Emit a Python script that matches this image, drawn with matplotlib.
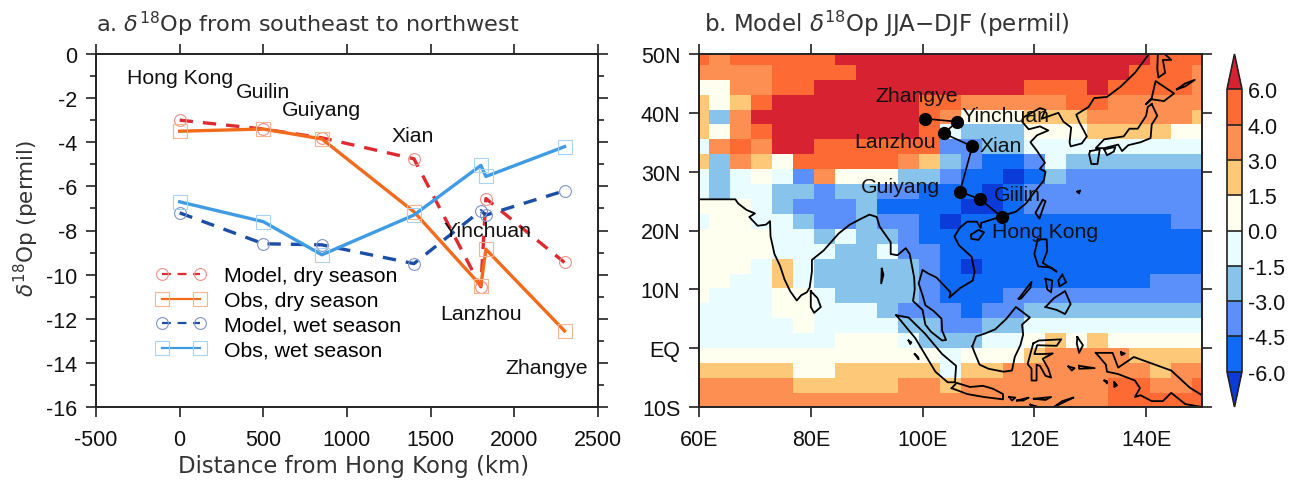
import matplotlib
matplotlib.use('Agg')
import matplotlib.pyplot as plt
from matplotlib.colors import ListedColormap, BoundaryNorm
from matplotlib.lines import Line2D
from matplotlib.ticker import MultipleLocator
import numpy as np

W, H = 1289, 481

# panel a data
distance = [0, 500, 850, 1400, 1800, 1830, 2300]
model_dry = [-3.0, -3.4, -3.8, -4.75, -10.55, -6.55, -9.45]
obs_dry = [-3.5, -3.4, -3.85, -7.15, -10.5, -8.85, -12.55]
model_wet = [-7.2, -8.6, -8.65, -9.5, -7.1, -7.3, -6.2]
obs_wet = [-6.7, -7.6, -9.1, -7.3, -5.05, -5.55, -4.2]

label_names = ['Hong Kong', 'Guilin', 'Guiyang', 'Xian', 'Yinchuan', 'Lanzhou', 'Zhangye']
label_x = [2, 498, 845, 1395, 1837, 1801, 2196]
label_y = [-1.05, -1.68, -2.5, -3.7, -8.0, -11.75, -14.2]

# panel b data: colour class of each model cell, north to south, west to east
# 0 is below -6 and 9 is above 6
grid_classes = [
    '8788888999999999999999888',
    '7777888899999999999998887',
    '5577889999999999888988887',
    '6568999999988777778877777',
    '6379999999987555666777776',
    '6578999999984333555666655',
    '4787998888882233444444444',
    '6376588888763211243333333',
    '4345427555332110132222222',
    '4344332332211101222222222',
    '5554322231111001222222222',
    '4554432232210111111111122',
    '5555443433211111111111111',
    '5555444334221111111111111',
    '5554643333321011111111111',
    '5544643333321111111111222',
    '5444554333321112222222222',
    '4444554443222122333333333',
    '4444454444332233444444444',
    '4444444555433344565655555',
    '5555555555554555677776666',
    '6666655666664667777777677',
    '7777766666776777777788778',
    '7777777777777777777788888',
]
class_values = [-7, -5.25, -3.75, -2.25, -0.75, 0.75, 2.25, 3.5, 5, 7]
class_colors = ['#0b3bd9', '#0f6af5', '#5b8ff9', '#87c3ea', '#e9fcff',
                '#fffff0', '#fdc978', '#fd8f52', '#fd6a33', '#d62231']
bounds = [-6, -4.5, -3, -1.5, 0, 1.5, 3, 4, 6]

station_names = ['Hong Kong', 'Guilin', 'Guiyang', 'Xian', 'Lanzhou', 'Yinchuan', 'Zhangye']
station_lon = [114.2, 110.3, 106.7, 108.9, 103.8, 106.2, 100.4]
station_lat = [22.3, 25.3, 26.6, 34.3, 36.5, 38.5, 39.0]

map_labels = ['Hong Kong', 'Giilin', 'Guiyang', 'Xian', 'Lanzhou', 'Yinchuan', 'Zhangye']
map_label_lon = [121.9, 116.9, 96.0, 113.9, 95.0, 114.9, 98.9]
map_label_lat = [19.9, 26.2, 27.4, 34.4, 35.2, 39.5, 43.0]

# coastlines, lon/lat
coast_asia = [(60, 25.3), (66.5, 25.3), (67, 24.6), (68.5, 23.5), (70, 22.9), (69, 22.3), (70.5, 20.8),
              (72, 21), (72.7, 21.6), (72.8, 19), (73.5, 16), (74.5, 14), (75.3, 11.7), (76.3, 9.7),
              (77.5, 8.1), (78.3, 9), (79.3, 9.5), (79.8, 10.3), (80.2, 13), (80.2, 15), (82.3, 16.6),
              (85, 19.5), (87, 21), (89, 22), (90.5, 22.7), (91.8, 22.3), (92.3, 20.7), (94.3, 18),
              (94.3, 16), (95.5, 15.8), (97, 17), (97.7, 16), (98.5, 12), (98.6, 10), (98.3, 8),
              (100, 6.5), (100.5, 4), (101.5, 2.8), (103.5, 1.3), (104.2, 1.4), (103.5, 3), (103.4, 5),
              (102, 6.3), (100.5, 7.3), (100, 9), (99.3, 11), (100, 13.3), (101, 12.7), (102.5, 12),
              (104, 10.5), (105, 9.5), (104.8, 8.6), (106.7, 10.2), (109, 11.5), (109.3, 13), (108.8, 15.5),
              (106.5, 17.5), (105.7, 19), (106.7, 20.5), (108, 21.5), (109.7, 21.5), (110.4, 20.4),
              (110.5, 21.3), (113.5, 22.2), (114.3, 22.5), (116.7, 23.2), (118.5, 24.6), (120, 26.5),
              (121.7, 28.5), (122, 30), (121, 30.5), (121.9, 31.5), (120.5, 33.5), (119.3, 35),
              (120.5, 36.2), (122.5, 37), (121, 37.7), (119, 37.2), (117.8, 38.5), (118, 39.2), (121, 40.8),
              (122, 40.5), (121.3, 39), (124.3, 40), (125.2, 38.5), (126.6, 37.5), (126.3, 35), (126.5, 34.3),
              (128.5, 34.8), (129.4, 36), (128, 38.5), (127.5, 39.7), (129.7, 41), (130.7, 42.5), (133, 42.7),
              (135.5, 44.5), (138, 46.8), (140.5, 50)]
islands = [
    [(80, 9.7), (81.2, 8.5), (81.8, 7), (80.6, 6), (80, 7), (80, 9.7)],
    [(108.7, 19.3), (110, 20.1), (111, 19.7), (110, 18.4), (108.7, 18.6), (108.7, 19.3)],
    [(121.5, 25.2), (122, 25), (120.9, 22), (120.2, 23), (121.5, 25.2)],
    [(95.3, 5.6), (97.5, 5.2), (100.4, 2.5), (103.5, -1), (106, -3), (105.8, -5.8), (104.5, -5.8),
     (102.3, -4), (100.4, -1), (98.7, 1.7), (95.3, 5.6)],
    [(105.2, -6.8), (106.1, -5.9), (108.5, -6.6), (110.8, -6.4), (112.6, -6.9), (114.4, -7.8),
     (114.4, -8.7), (111, -8.3), (108, -7.8), (105.2, -6.8)],
    [(108.9, 0.3), (109.6, 2), (111.2, 2.5), (113, 3.2), (115, 5), (116.7, 7), (119.2, 5.2), (117.8, 4),
     (118, 2.3), (117.5, 0.5), (116.5, -1.5), (116, -3.8), (114.5, -4), (111.8, -3.5), (110.2, -2.8),
     (109.2, -0.5), (108.9, 0.3)],
    [(119.8, 0.8), (120.8, 1.3), (124.8, 1.5), (124, 0.4), (120.5, 0.5), (120, -1), (121.5, -1),
     (123.3, -0.9), (121.5, -1.8), (122.5, -3.5), (123, -5), (122, -4.7), (121, -3), (120.4, -2.8),
     (120.4, -5.5), (119.5, -5.5), (119.5, -3.5), (118.8, -2.7), (119.8, 0.8)],
    [(131, -0.8), (134, -0.8), (135, -3.3), (137.8, -1.5), (141, -2.6), (144.5, -3.8), (147, -6),
     (147.8, -6.7), (150, -8), (150, -10), (147, -9.5), (144.5, -7.6), (143, -9), (141, -9), (139, -8),
     (138, -8.3), (138.9, -6.8), (138, -5.5), (135, -4.4), (133, -4), (132.8, -2.8), (131, -0.8)],
    [(120.6, 18.5), (122.2, 18.5), (122.3, 16.5), (121.5, 14.5), (124, 13), (123, 13.7), (120.7, 13.9),
     (120, 16), (120.6, 18.5)],
    [(122, 7), (123.5, 8.5), (125.5, 9.7), (126.5, 7.5), (125.5, 5.8), (124, 6.5), (122, 7)],
    [(125, 12.5), (125.7, 11.2), (124.5, 10.5), (124.3, 11.5), (125, 12.5)],
    [(122, 11.8), (123.2, 11.5), (123, 9.5), (122.3, 10), (122, 11.8)],
    [(117.2, 8.4), (119.5, 11.3), (119.3, 10.3), (117.6, 8.4), (117.2, 8.4)],
    [(127.7, 1.9), (128.7, 0.5), (128, -0.8), (127.6, 0.8), (127.7, 1.9)],
    [(128, -3), (130.8, -3.4), (128, -3.5), (128, -3)],
    [(126.1, -3.1), (127.2, -3.4), (126.7, -3.8), (126.1, -3.1)],
    [(132.5, -5.5), (133, -5.6), (133, -6), (132.6, -5.5)],
    [(134.3, -5.8), (134.8, -6.3), (134.3, -6.6), (134.3, -5.8)],
    [(135.5, -0.7), (136.2, -0.9), (135.6, -1.2), (135.5, -0.7)],
    [(123.5, -10), (127, -8.4), (125, -9), (123.5, -10)],
    [(119.9, -8.6), (123, -8.3), (122, -8.8), (119.9, -8.6)],
    [(116.9, -8.9), (119, -8.4), (118, -8.9), (116.9, -8.9)],
    [(115.5, -8.3), (116.6, -8.4), (116, -8.9), (115.5, -8.3)],
    [(119.3, -9.6), (120.7, -10), (119.7, -9.9), (119.3, -9.6)],
    [(92.7, 13.5), (93, 12.5), (92.6, 11), (92.7, 13.5)],
    [(97.5, 1.3), (98, 1), (97.8, 0.7), (97.5, 1.3)],
    [(98.6, -1), (99.2, -1.5), (99.3, -1.9), (98.6, -1)],
    [(127.7, 26.6), (128.2, 26.8), (128, 26.3), (127.7, 26.6)],
    [(142.1, 50), (142, 47.5), (142.2, 46), (143.4, 46.8), (143, 49), (144.5, 49), (143.3, 50)],
    [(140, 41.5), (141, 42.5), (141.7, 45.4), (145, 43.3), (143.2, 42), (141, 42.3), (140, 41.5)],
    [(141, 41.5), (142, 39.5), (141, 38), (140.8, 35.7), (139, 35), (136.8, 34.5), (135.7, 33.5),
     (135, 34.6), (132.5, 34), (131, 34), (132.5, 35.5), (136, 36), (137, 37.3), (138.5, 37.3),
     (140, 39.5), (140.3, 41), (141, 41.5)],
    [(132.5, 33.8), (134.5, 34.2), (134.2, 33.4), (133, 32.8), (132.5, 33.8)],
    [(130, 33.5), (131.7, 33.8), (131.3, 31.3), (130.2, 31.3), (129.8, 33), (130, 33.5)],
    [(145.5, 44), (147, 45), (148.7, 45.6), (147, 44.5), (145.5, 44)],
]

plt.rcParams['font.family'] = ['Liberation Sans', 'DejaVu Sans']
plt.rcParams['mathtext.fontset'] = 'dejavusans'
plt.rcParams['axes.unicode_minus'] = False

fig = plt.figure(figsize=(W / 100, H / 100), dpi=100)


def pixel_axes(left, top, right, bottom):
    return fig.add_axes([left / W, 1 - bottom / H, (right - left) / W, (bottom - top) / H])


dark = '#222222'
label_size = 15.3
tick_size = 15.5

# panel a
ax = pixel_axes(96, 55, 598, 408)
red, orange, navy, sky = '#e02a30', '#f26a1c', '#1c4ea6', '#3f9be3'
red_m, orange_m, navy_m, sky_m = '#ee8f88', '#f8b48e', '#7f93c8', '#a8d2f2'
circle = dict(marker='o', ms=8.5, mfc='none', mew=0.8)
square = dict(marker='s', ms=10, mfc='none', mew=0.8)

ax.plot(distance, model_dry, color=red, lw=2.4, dashes=(4, 3), mec=red_m, **circle)
ax.plot(distance, model_wet, color=navy, lw=2.4, dashes=(4, 3), mec=navy_m, **circle)
ax.plot(distance, obs_dry, color=orange, lw=2.4, mec=orange_m, **square)
ax.plot(distance, obs_wet, color=sky, lw=2.4, mec=sky_m, **square)

for name, x, y in zip(label_names, label_x, label_y):
    ax.text(x, y, name, fontsize=label_size, ha='center', va='center', color='#111111')

ax.set_xlim(-500, 2500)
ax.set_ylim(-16, 0)
ax.xaxis.set_major_locator(MultipleLocator(500))
ax.yaxis.set_major_locator(MultipleLocator(2))
ax.yaxis.set_minor_locator(MultipleLocator(1))
ax.tick_params(which='major', direction='out', length=7.5, width=1.2, color=dark, top=True, right=True,
               labelsize=tick_size, pad=6, labelcolor='#111111')
ax.tick_params(which='minor', direction='out', length=4.5, width=1.2, color=dark, left=True, right=True)
ax.tick_params(axis='x', pad=8)

handles = [
    Line2D([], [], color=red, lw=1.6, dashes=(4, 3), mec=red_m, **circle),
    Line2D([], [], color=orange, lw=1.6, mec=orange_m, **square),
    Line2D([], [], color=navy, lw=1.6, dashes=(4, 3), mec=navy_m, **circle),
    Line2D([], [], color=sky, lw=1.6, mec=sky_m, **square),
]
ax.legend(handles, ['Model, dry season', 'Obs, dry season', 'Model, wet season', 'Obs, wet season'],
          numpoints=2, frameon=False, fontsize=label_size, handlelength=2.35, handletextpad=0.85,
          labelspacing=0.28, borderpad=0, borderaxespad=0, loc='upper left',
          bbox_to_anchor=((156 - 96) / 502, 1 - (267 - 55) / 353))

fig.text(308 / W, 1 - 24 / H, r'a. $\delta^{18}$Op from southeast to northwest', fontsize=16.1,
         family='DejaVu Sans', ha='center', va='center', color='#333333')
fig.text(354 / W, 1 - 467 / H, 'Distance from Hong Kong (km)', fontsize=16.4, family='DejaVu Sans',
         ha='center', va='center', color='#333333')
fig.text(26 / W, 1 - 218 / H, r'$\delta^{18}$Op (permil)', fontsize=15.5, family='DejaVu Sans',
         rotation=90, ha='center', va='center', color='#333333')

# panel b
bx = pixel_axes(699, 55, 1202, 408)
lon_centers = np.arange(25) * 3.75 + 60
lon_edges = np.append(lon_centers - 1.875, 151.875)
lat_step = 180 / 71
lat_edges = 48.17 + lat_step - lat_step * np.arange(25)
values = np.array([[class_values[int(c)] for c in row] for row in grid_classes])

cmap = ListedColormap(class_colors[1:9])
cmap.set_under(class_colors[0])
cmap.set_over(class_colors[9])
norm = BoundaryNorm(bounds, 8)
mesh = bx.pcolormesh(lon_edges, lat_edges, values, cmap=cmap, norm=norm)

bx.plot(*zip(*coast_asia), color='black', lw=1.3)
for isl in islands:
    bx.plot(*zip(*isl), color='black', lw=1.3)

bx.plot(station_lon, station_lat, color='black', lw=1.2, marker='o', ms=8.5)
for name, x, y in zip(map_labels, map_label_lon, map_label_lat):
    bx.text(x, y, name, fontsize=label_size, ha='center', va='center', color='#111111')

bx.set_xlim(60, 150)
bx.set_ylim(-10, 50)
bx.set_xticks([60, 80, 100, 120, 140], ['60E', '80E', '100E', '120E', '140E'])
bx.set_yticks([50, 40, 30, 20, 10, 0, -10], ['50N', '40N', '30N', '20N', '10N', 'EQ', '10S'])
bx.tick_params(direction='out', length=7.5, width=1.2, color=dark, top=True, right=True,
               labelsize=tick_size, pad=6, labelcolor='#111111')
bx.tick_params(axis='x', pad=8)

fig.text(704 / W, 1 - 24 / H, r'b. Model $\delta^{18}$Op JJA$-$DJF (permil)', fontsize=16.5,
         family='DejaVu Sans', ha='left', va='center', color='#333333')

for a in [ax, bx]:
    for s in a.spines.values():
        s.set_linewidth(1.4)
        s.set_color(dark)

# colour bar, the extensions fall inside this box
cax = pixel_axes(1227, 55, 1242, 408)
cb = fig.colorbar(mesh, cax=cax, extend='both', extendfrac=0.125, spacing='uniform',
                  drawedges=True, ticks=bounds)
cb.ax.set_yticklabels(['%.1f' % b for b in bounds])
cb.ax.tick_params(length=0, labelsize=tick_size, pad=4, labelcolor='#111111')
cb.outline.set_linewidth(1.2)
cb.outline.set_edgecolor(dark)
cb.dividers.set_linewidth(1.2)
cb.dividers.set_color(dark)

fig.savefig('out.png', dpi=100)
